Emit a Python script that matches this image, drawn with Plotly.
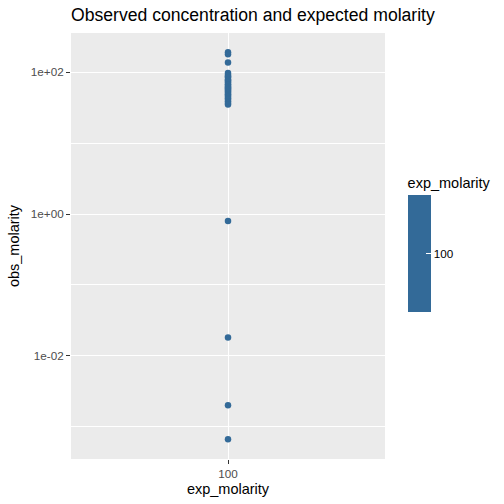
import plotly.graph_objects as go

# values
obs_molarity = [192, 180, 138,
                98, 92, 88, 85, 80, 77, 74, 71, 68, 66, 63, 61, 59, 57,
                55, 53, 51, 49, 47, 45, 43, 41, 39, 37, 35,
                0.80, 0.018, 0.0020, 0.00066]
exp_molarity = [100] * len(obs_molarity)

y_tickvals = [0.01, 1, 100]
y_ticktext = ["1e-02", "1e+00", "1e+02"]
y_minorvals = [0.001, 0.1, 10]

font_family = "Liberation Sans, Arial, sans-serif"
point_color = "#336A98"

W, H = 504, 504

fig = go.Figure(
    go.Scatter(
        x=[str(v) for v in exp_molarity],
        y=obs_molarity,
        mode="markers",
        marker=dict(
            size=6.5,
            color=exp_molarity,
            colorscale=[[0, point_color], [1, point_color]],
            cmin=99,
            cmax=101,
            line=dict(width=0),
            showscale=True,
            colorbar=dict(
                title=dict(text="exp_molarity", side="top",
                           font=dict(size=14.5, color="black")),
                tickvals=[100],
                ticktext=["100"],
                ticks="inside",
                ticklen=5,
                tickcolor="white",
                tickfont=dict(size=11.7, color="black"),
                thickness=23,
                lenmode="pixels",
                len=138,
                x=1.072,
                xanchor="left",
                xpad=0,
                y=0.345,
                yanchor="bottom",
                ypad=0,
                outlinewidth=0,
            ),
        ),
        showlegend=False,
    )
)

fig.update_layout(
    width=W,
    height=H,
    margin=dict(l=71, r=119, t=33, b=45),
    paper_bgcolor="white",
    plot_bgcolor="#EBEBEB",
    font=dict(family=font_family, color="black"),
    title=dict(
        text="Observed concentration and expected molarity",
        x=0, xref="paper", xanchor="left",
        y=1 - 15 / H, yref="container", yanchor="middle",
        font=dict(size=17.6, color="black"),
    ),
    xaxis=dict(
        type="category",
        range=[-0.6, 0.6],
        title=dict(text="exp_molarity", font=dict(size=14.5), standoff=4),
        showgrid=True, gridcolor="white", gridwidth=1.2,
        zeroline=False,
        ticks="outside", ticklen=4, tickcolor="#333333", tickwidth=1,
        tickfont=dict(size=11.7, color="#4D4D4D"),
        automargin=False,
    ),
    yaxis=dict(
        type="log",
        range=[-3.458, 2.555],
        tickvals=y_tickvals,
        ticktext=y_ticktext,
        title=dict(text="obs_molarity", font=dict(size=14.5), standoff=7),
        showgrid=True, gridcolor="white", gridwidth=1.2,
        minor=dict(tickmode="array", tickvals=y_minorvals, showgrid=True,
                   gridcolor="white", gridwidth=0.6, ticks=""),
        zeroline=False,
        ticks="outside", ticklen=4, tickcolor="#333333", tickwidth=1,
        tickfont=dict(size=11.7, color="#4D4D4D"),
        automargin=False,
    ),
)

# drop the default 8px body margin so the figure fills the window
fig.write_html("out.html", config={"displayModeBar": False},
               post_script="document.body.style.margin = '0';")
